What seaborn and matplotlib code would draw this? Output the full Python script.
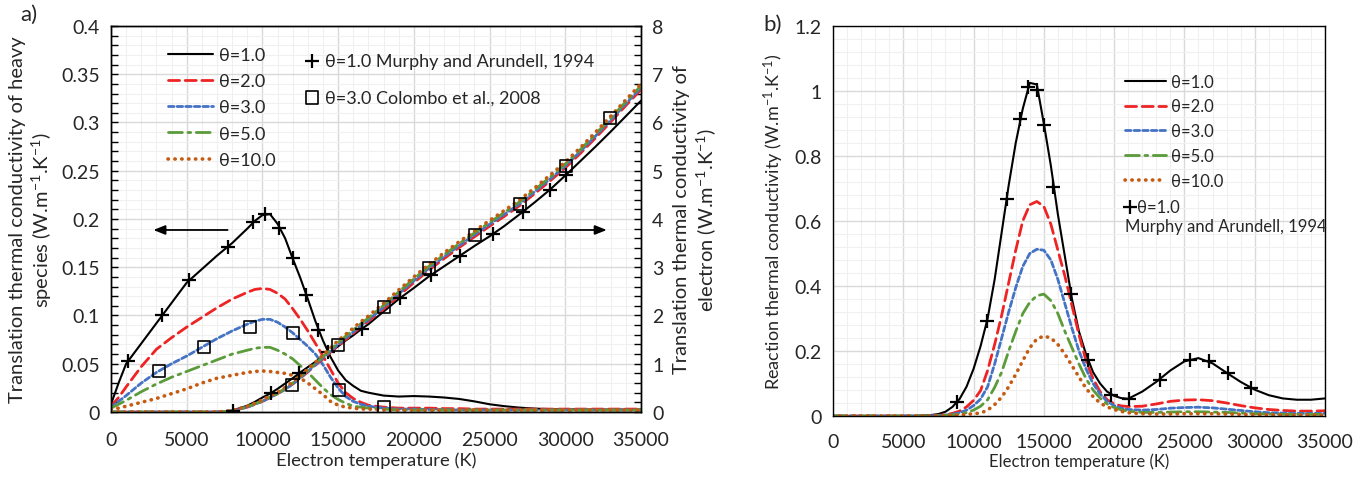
import seaborn as sns
import matplotlib.pyplot as plt
from matplotlib.ticker import MultipleLocator

# Datos (a: conductividad de traslacion, b: de reaccion)
T_a = [0, 500, 1000, 2000, 3000, 4000, 5000, 6000, 7000, 8000, 9000,
       9500, 10000, 10500, 11000, 11500, 12000, 12500, 13000, 13500, 14000,
       14500, 15000, 15500, 16000, 16500, 17000, 18000, 19000, 20000, 21000,
       22000, 23000, 24000, 25000, 26000, 27000, 28000, 29000, 30000, 31000,
       32000, 33000, 34000, 35000]

# especies pesadas (eje izquierdo)
heavy_1 = [0.008, 0.030, 0.050, 0.071, 0.092, 0.113, 0.134, 0.148, 0.162, 0.175, 0.190,
           0.198, 0.204, 0.205, 0.195, 0.180, 0.159, 0.139, 0.117, 0.094, 0.074,
           0.057, 0.043, 0.033, 0.027, 0.022, 0.020, 0.017, 0.016, 0.0165, 0.016,
           0.015, 0.0135, 0.011, 0.008, 0.006, 0.0045, 0.0035, 0.003, 0.0027, 0.0026,
           0.0025, 0.0025, 0.0025, 0.0025]
heavy_2 = [0.006, 0.015, 0.026, 0.047, 0.065, 0.077, 0.088, 0.098, 0.108, 0.117, 0.124,
           0.127, 0.128, 0.127, 0.123, 0.117, 0.107, 0.096, 0.084, 0.071, 0.058,
           0.044, 0.030, 0.020, 0.014, 0.010, 0.007, 0.005, 0.004, 0.004, 0.004,
           0.0035, 0.0035, 0.003, 0.003, 0.003, 0.003, 0.003, 0.003, 0.003, 0.003,
           0.003, 0.003, 0.003, 0.003]
heavy_3 = [0.005, 0.011, 0.017, 0.030, 0.041, 0.050, 0.058, 0.067, 0.076, 0.084, 0.091,
           0.094, 0.096, 0.096, 0.093, 0.088, 0.082, 0.075, 0.068, 0.060, 0.049,
           0.036, 0.025, 0.016, 0.011, 0.008, 0.006, 0.004, 0.003, 0.003, 0.0025,
           0.0025, 0.002, 0.002, 0.002, 0.002, 0.002, 0.002, 0.002, 0.002, 0.002,
           0.002, 0.002, 0.002, 0.002]
heavy_5 = [0.004, 0.008, 0.012, 0.021, 0.029, 0.036, 0.042, 0.048, 0.054, 0.060, 0.064,
           0.066, 0.067, 0.067, 0.064, 0.060, 0.055, 0.048, 0.041, 0.033, 0.025,
           0.018, 0.013, 0.009, 0.006, 0.005, 0.004, 0.003, 0.002, 0.002, 0.002,
           0.002, 0.002, 0.002, 0.002, 0.002, 0.002, 0.002, 0.002, 0.002, 0.002,
           0.002, 0.002, 0.002, 0.002]
heavy_10 = [0.003, 0.004, 0.006, 0.010, 0.014, 0.019, 0.024, 0.030, 0.035, 0.038, 0.041,
            0.042, 0.0425, 0.042, 0.041, 0.040, 0.038, 0.035, 0.030, 0.024, 0.018,
            0.011, 0.007, 0.005, 0.004, 0.003, 0.003, 0.002, 0.002, 0.002, 0.002,
            0.002, 0.002, 0.002, 0.002, 0.002, 0.002, 0.002, 0.002, 0.002, 0.002,
            0.002, 0.002, 0.002, 0.002]

# electrones (eje derecho)
elec_1 = [0, 0, 0, 0, 0, 0, 0, 0, 0, 0.03, 0.13,
          0.21, 0.30, 0.38, 0.48, 0.59, 0.70, 0.82, 0.93, 1.04, 1.15,
          1.25, 1.36, 1.48, 1.59, 1.71, 1.82, 2.08, 2.34, 2.57, 2.81,
          3.02, 3.23, 3.44, 3.64, 3.86, 4.10, 4.35, 4.61, 4.90, 5.20,
          5.50, 5.81, 6.13, 6.45]
elec_2 = [0, 0, 0, 0, 0, 0, 0, 0, 0, 0.02, 0.10,
          0.16, 0.22, 0.30, 0.38, 0.47, 0.58, 0.70, 0.83, 0.97, 1.10,
          1.24, 1.37, 1.50, 1.63, 1.76, 1.88, 2.13, 2.41, 2.68, 2.94,
          3.18, 3.41, 3.63, 3.85, 4.06, 4.28, 4.53, 4.79, 5.06, 5.36,
          5.68, 6.01, 6.35, 6.68]
elec_3 = [0, 0, 0, 0, 0, 0, 0, 0, 0, 0.02, 0.10,
          0.16, 0.22, 0.30, 0.38, 0.47, 0.58, 0.71, 0.84, 0.98, 1.12,
          1.26, 1.40, 1.53, 1.66, 1.79, 1.91, 2.17, 2.45, 2.72, 2.98,
          3.22, 3.45, 3.67, 3.89, 4.10, 4.32, 4.57, 4.83, 5.10, 5.40,
          5.72, 6.05, 6.39, 6.72]
elec_5 = [0, 0, 0, 0, 0, 0, 0, 0, 0, 0.02, 0.11,
          0.17, 0.23, 0.31, 0.39, 0.49, 0.60, 0.73, 0.86, 1.00, 1.15,
          1.29, 1.44, 1.57, 1.70, 1.83, 1.95, 2.21, 2.49, 2.76, 3.02,
          3.26, 3.49, 3.71, 3.93, 4.14, 4.36, 4.61, 4.87, 5.14, 5.44,
          5.76, 6.09, 6.43, 6.76]
elec_10 = [0, 0, 0, 0, 0, 0, 0, 0, 0, 0.03, 0.12,
           0.18, 0.25, 0.33, 0.41, 0.51, 0.62, 0.75, 0.89, 1.03, 1.18,
           1.33, 1.48, 1.61, 1.74, 1.87, 1.99, 2.25, 2.53, 2.80, 3.06,
           3.30, 3.53, 3.75, 3.97, 4.18, 4.40, 4.65, 4.91, 5.18, 5.48,
           5.80, 6.13, 6.47, 6.80]

# Murphy and Arundell 1994 (theta=1) y Colombo et al. 2008 (theta=3)
murphy_T_heavy = [1100, 3400, 5150, 7700, 9400, 10200, 11100, 12000, 12900, 13700, 14350]
murphy_heavy = [0.0525, 0.1005, 0.137, 0.171, 0.197, 0.205, 0.191, 0.160, 0.1216, 0.085, 0.062]
murphy_T_elec = [8080, 10570, 12420, 16560, 19090, 21140, 23050, 25250, 27230, 29000, 30030]
murphy_elec = [0.03, 0.39, 0.80, 1.72, 2.36, 2.84, 3.24, 3.69, 4.15, 4.61, 4.91]
colombo_T_heavy = [3190, 6160, 9180, 12040, 15080, 18050]
colombo_heavy = [0.042, 0.0677, 0.088, 0.082, 0.023, 0.0055]
colombo_T_elec = [11930, 14970, 18050, 21020, 24040, 27010, 30030, 32960]
colombo_elec = [0.566, 1.395, 2.17, 2.98, 3.67, 4.31, 5.10, 6.09]

T_b = [0, 1000, 2000, 3000, 4000, 5000, 6000,
       7000, 7500, 8000, 8500, 9000, 9500, 10000, 10500, 11000, 11500,
       12000, 12500, 13000, 13500, 14000, 14500, 15000, 15500, 16000, 16500,
       17000, 17500, 18000, 18500, 19000, 19500, 20000, 20500, 21000,
       22000, 23000, 24000, 25000, 26000, 27000, 28000, 29000, 30000,
       31000, 32000, 33000, 34000, 35000]
react_1 = [0, 0, 0, 0, 0, 0, 0.0005,
           0.003, 0.006, 0.013, 0.028, 0.052, 0.09, 0.145, 0.215, 0.30, 0.42,
           0.565, 0.71, 0.84, 0.945, 1.025, 1.02, 0.90, 0.77, 0.62, 0.49,
           0.36, 0.26, 0.19, 0.135, 0.10, 0.075, 0.062, 0.055, 0.053,
           0.075, 0.105, 0.14, 0.168, 0.178, 0.162, 0.133, 0.105, 0.081,
           0.064, 0.054, 0.050, 0.050, 0.054]
react_2 = [0, 0, 0, 0, 0, 0, 0,
           0.001, 0.002, 0.004, 0.008, 0.015, 0.028, 0.048, 0.078, 0.14, 0.22,
           0.31, 0.41, 0.51, 0.60, 0.65, 0.66, 0.645, 0.59, 0.51, 0.43,
           0.34, 0.25, 0.17, 0.115, 0.075, 0.05, 0.037, 0.031, 0.029,
           0.03, 0.037, 0.045, 0.049, 0.050, 0.047, 0.040, 0.032, 0.025,
           0.020, 0.017, 0.015, 0.015, 0.016]
react_3 = [0, 0, 0, 0, 0, 0, 0,
           0.001, 0.001, 0.003, 0.005, 0.010, 0.018, 0.032, 0.052, 0.09, 0.16,
           0.24, 0.32, 0.395, 0.46, 0.50, 0.513, 0.51, 0.48, 0.42, 0.345,
           0.27, 0.20, 0.145, 0.10, 0.068, 0.045, 0.032, 0.024, 0.020,
           0.018, 0.02, 0.024, 0.026, 0.027, 0.025, 0.021, 0.017, 0.013,
           0.010, 0.009, 0.008, 0.008, 0.008]
react_5 = [0, 0, 0, 0, 0, 0, 0,
           0.0, 0.001, 0.002, 0.003, 0.006, 0.010, 0.018, 0.030, 0.05, 0.088,
           0.135, 0.20, 0.26, 0.315, 0.35, 0.37, 0.375, 0.355, 0.315, 0.26,
           0.21, 0.16, 0.115, 0.08, 0.055, 0.037, 0.026, 0.019, 0.015,
           0.011, 0.011, 0.012, 0.013, 0.013, 0.012, 0.011, 0.009, 0.007,
           0.006, 0.005, 0.005, 0.005, 0.005]
react_10 = [0, 0, 0, 0, 0, 0, 0,
            0, 0, 0.001, 0.002, 0.003, 0.005, 0.007, 0.009, 0.018, 0.035,
            0.058, 0.09, 0.128, 0.17, 0.21, 0.237, 0.246, 0.24, 0.22, 0.19,
            0.155, 0.12, 0.085, 0.06, 0.04, 0.028, 0.02, 0.014, 0.010,
            0.007, 0.006, 0.006, 0.007, 0.007, 0.007, 0.006, 0.005, 0.004,
            0.004, 0.003, 0.003, 0.003, 0.003]
murphy_T_react = [8840, 10970, 12350, 13300, 13890, 14490, 15010, 15670, 16900,
                  18110, 19750, 21050, 23260, 25390, 26740, 28070, 29730]
murphy_react = [0.042, 0.293, 0.668, 0.914, 1.011, 1.003, 0.895, 0.706, 0.375,
                0.172, 0.066, 0.052, 0.112, 0.173, 0.168, 0.132, 0.085]

labels = ['θ=1.0', 'θ=2.0', 'θ=3.0', 'θ=5.0', 'θ=10.0']
colores = ['black', '#EE2424', '#4472C4', '#5B9B3A', '#C55A11']
estilos = ['-', (0, (4, 2)), (0, (2, 1.1)), (0, (5, 2, 1, 2)), (0, (0.1, 1.8))]
anchos = [1.5, 2.0, 2.0, 2.0, 2.6]

sns.set_style('white')
plt.rcParams['font.family'] = ['Lato', 'DejaVu Sans']
plt.rcParams['mathtext.fontset'] = 'custom'
plt.rcParams['mathtext.rm'] = 'Lato'
plt.rcParams['mathtext.default'] = 'regular'

fig = plt.figure(figsize=(13.62, 4.81), dpi=100)
ax1 = fig.add_axes([0.0815, 0.1414, 0.3891, 0.8025])
ax2 = ax1.twinx()
ax3 = fig.add_axes([0.6116, 0.1331, 0.3612, 0.8108])

# ----------------------------------------------------------------------------- a)
for vals, c, ls, lw in zip([heavy_1, heavy_2, heavy_3, heavy_5, heavy_10], colores, estilos, anchos):
    sns.lineplot(x=T_a, y=vals, color=c, linestyle=ls, linewidth=lw,
                 dash_capstyle='round', ax=ax1)
for vals, c, ls, lw in zip([elec_1, elec_2, elec_3, elec_5, elec_10], colores, estilos, anchos):
    sns.lineplot(x=T_a, y=vals, color=c, linestyle=ls, linewidth=lw,
                 dash_capstyle='round', ax=ax2)

n0 = len(ax1.collections)
sns.scatterplot(x=murphy_T_heavy, y=murphy_heavy, marker='+', s=100, color='black',
                edgecolor='black', linewidth=1.6, ax=ax1, zorder=5)
sns.scatterplot(x=colombo_T_heavy, y=colombo_heavy, marker='s', s=75, color='black',
                facecolor='none', edgecolor='black', linewidth=1.2, ax=ax1, zorder=5)
marcas_a = ax1.collections[n0:n0 + 2]
sns.scatterplot(x=murphy_T_elec, y=murphy_elec, marker='+', s=100, color='black',
                edgecolor='black', linewidth=1.6, ax=ax2, zorder=5)
sns.scatterplot(x=colombo_T_elec, y=colombo_elec, marker='s', s=75, color='black',
                facecolor='none', edgecolor='black', linewidth=1.2, ax=ax2, zorder=5)

ax1.set_xlim(0, 35000)
ax1.set_ylim(0, 0.4)
ax2.set_ylim(0, 8)
ax1.xaxis.set_major_locator(MultipleLocator(5000))
ax1.xaxis.set_minor_locator(MultipleLocator(1000))
ax1.yaxis.set_major_locator(MultipleLocator(0.05))
ax1.yaxis.set_minor_locator(MultipleLocator(0.01))
ax2.yaxis.set_major_locator(MultipleLocator(1))
ax2.yaxis.set_minor_locator(MultipleLocator(0.2))
ax1.set_yticks([0, 0.05, 0.1, 0.15, 0.2, 0.25, 0.3, 0.35, 0.4])
ax1.set_yticklabels(['0', '0.05', '0.1', '0.15', '0.2', '0.25', '0.3', '0.35', '0.4'])

ax1.grid(which='major', color='#d9d9d9', linewidth=1.0)
ax1.grid(which='minor', color='#f0f0f0', linewidth=0.8)
ax1.set_axisbelow(True)

ax1.annotate('', xy=(2800, 0.1886), xytext=(7700, 0.1886),
             arrowprops=dict(arrowstyle='-|>,head_length=0.7,head_width=0.28',
                             color='black', lw=1.3, shrinkA=0, shrinkB=0))
ax1.annotate('', xy=(32740, 0.1886), xytext=(27010, 0.1886),
             arrowprops=dict(arrowstyle='-|>,head_length=0.7,head_width=0.28',
                             color='black', lw=1.3, shrinkA=0, shrinkB=0))

ax1.set_xlabel('Electron temperature (K)', fontsize=13.3, labelpad=2)
ax1.set_ylabel('Translation thermal conductivity of heavy\nspecies (W.m$^{-1}$.K$^{-1}$)',
               fontsize=14.5, labelpad=5)
ax2.set_ylabel('Translation thermal conductivity of\nelectron (W.m$^{-1}$.K$^{-1}$)',
               fontsize=14.5, labelpad=7)

lineas = ax1.get_lines()[:5]
ax1.legend(lineas, labels, loc='upper left', bbox_to_anchor=(0.1075, 0.946),
           frameon=False, fontsize=13, handlelength=2.5, handletextpad=0.35,
           labelspacing=0.57, borderpad=0, borderaxespad=0)
ax2.legend(marcas_a, ['θ=1.0 Murphy and Arundell, 1994', 'θ=3.0 Colombo et al., 2008'],
           loc='upper left', bbox_to_anchor=(0.366, 0.930), frameon=False, fontsize=13,
           handlelength=0.8, handletextpad=0.3, labelspacing=1.12, borderpad=0, borderaxespad=0)

# ----------------------------------------------------------------------------- b)
for vals, c, ls, lw in zip([react_1, react_2, react_3, react_5, react_10], colores, estilos, anchos):
    sns.lineplot(x=T_b, y=vals, color=c, linestyle=ls, linewidth=lw,
                 dash_capstyle='round', ax=ax3)
n1 = len(ax3.collections)
sns.scatterplot(x=murphy_T_react, y=murphy_react, marker='+', s=100, color='black',
                edgecolor='black', linewidth=1.6, ax=ax3, zorder=5)
marca_b = ax3.collections[n1:n1 + 1]

ax3.set_xlim(0, 35000)
ax3.set_ylim(0, 1.2)
ax3.xaxis.set_major_locator(MultipleLocator(5000))
ax3.xaxis.set_minor_locator(MultipleLocator(1000))
ax3.yaxis.set_major_locator(MultipleLocator(0.2))
ax3.yaxis.set_minor_locator(MultipleLocator(0.04))
ax3.set_yticks([0, 0.2, 0.4, 0.6, 0.8, 1.0, 1.2])
ax3.set_yticklabels(['0', '0.2', '0.4', '0.6', '0.8', '1', '1.2'])
ax3.grid(which='major', color='#d9d9d9', linewidth=1.0)
ax3.grid(which='minor', color='#f0f0f0', linewidth=0.8)
ax3.set_axisbelow(True)
ax3.set_xlabel('Electron temperature (K)', fontsize=12, labelpad=2)
ax3.set_ylabel('Reaction thermal conductivity (W.m$^{-1}$.K$^{-1}$)', fontsize=13, labelpad=6)

lineas_b = ax3.get_lines()[:5]
leg_b = ax3.legend(lineas_b, labels, loc='upper left', bbox_to_anchor=(0.5935, 0.878),
                   frameon=False, fontsize=12, handlelength=2.45, handletextpad=0.3,
                   labelspacing=0.53, borderpad=0, borderaxespad=0)
ax3.add_artist(leg_b)
ax3.legend(marca_b, ['θ=1.0'], loc='upper left', bbox_to_anchor=(0.5935, 0.557),
           frameon=False, fontsize=12, handlelength=0.6, handletextpad=0.1,
           borderpad=0, borderaxespad=0)
ax3.text(0.5935, 0.488, 'Murphy and Arundell, 1994', transform=ax3.transAxes,
         va='center', ha='left', fontsize=12)

# ejes, ticks y bordes
for ax in [ax1, ax2, ax3]:
    for sp in ax.spines.values():
        sp.set_color('black')
        sp.set_linewidth(1.0)
    ax.tick_params(which='both', direction='in', length=5, width=1, color='black',
                   labelsize=14, pad=8)
ax1.tick_params(axis='x', which='both', pad=14)
ax3.tick_params(axis='x', which='both', pad=12)

fig.text(0.021, 0.969, 'a)', fontsize=16, va='center', ha='center')
fig.text(0.567, 0.948, 'b)', fontsize=16, va='center', ha='center')

fig.savefig('out.png', dpi=100)
